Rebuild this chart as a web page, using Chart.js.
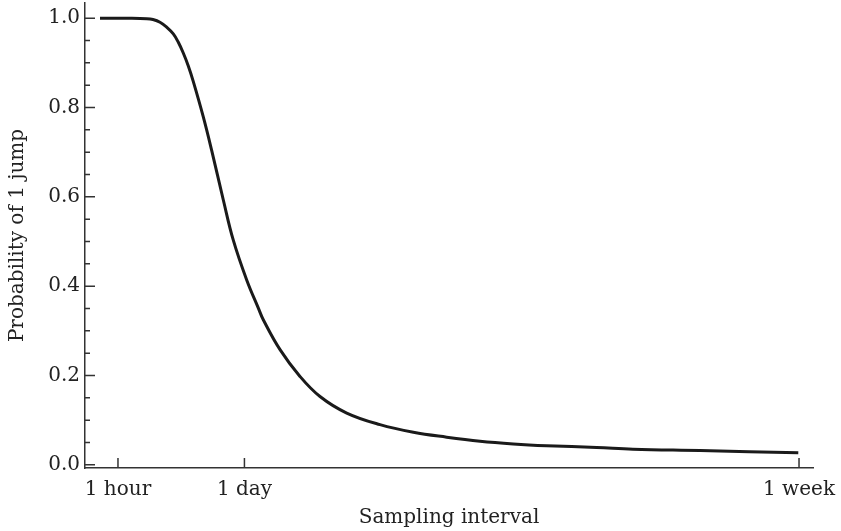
<!DOCTYPE html>
<html lang="en">
<head>
<meta charset="UTF-8" />
<title>Probability of 1 jump</title>
<script src="https://cdn.jsdelivr.net/npm/chart.js@4.4.1/dist/chart.umd.min.js"></script>
<style>
	html, body { margin: 0; padding: 0; background: #fff; }
	#wrap { position: relative; width: 841px; height: 531px; }
</style>
</head>
<body>
<div id="wrap"><canvas id="myChart"></canvas></div>
<script>
// x is position along the sampling-interval axis (0..100), y is probability
const curveX = [2.06, 6.18, 8.48, 9.34, 10.30, 11.22, 12.13, 12.82, 13.50, 14.19, 14.88, 16.25, 17.40, 19.00, 20.37, 22.21, 23.81, 24.49, 26.79, 29.53, 32.28, 35.95, 40.52, 45.10, 49.68, 54.26, 58.83, 63.41, 70.29, 75.27, 84.48, 97.98];
const curveY = [1.0, 1.0, 0.999, 0.997, 0.991, 0.980, 0.965, 0.946, 0.922, 0.893, 0.858, 0.779, 0.704, 0.593, 0.503, 0.414, 0.351, 0.325, 0.258, 0.198, 0.153, 0.116, 0.090, 0.073, 0.062, 0.053, 0.047, 0.043, 0.039, 0.035, 0.032, 0.027];

const xTickPos = [4.53, 21.9, 98.08];
const xTickLabels = ['1 hour', '1 day', '1 week'];
const yTicks = [0, 0.2, 0.4, 0.6, 0.8, 1.0];
const yMinorTicks = [0.05, 0.1, 0.15, 0.25, 0.3, 0.35, 0.45, 0.5, 0.55, 0.65, 0.7, 0.75, 0.85, 0.9, 0.95];

const axisColor = '#333';
const textColor = '#222';
const font = { family: "'DejaVu Serif', serif", size: 20 };

// ticks point into the plot, so draw them here
const innerTicks = {
	id: 'innerTicks',
	afterDraw(chart) {
		const ctx = chart.ctx;
		const xs = chart.scales.x, ys = chart.scales.y;
		ctx.save();
		ctx.strokeStyle = axisColor;
		ctx.lineWidth = 1.5;
		ctx.beginPath();
		yTicks.forEach(v => {
			const p = ys.getPixelForValue(v);
			ctx.moveTo(xs.left, p); ctx.lineTo(xs.left + 10, p);
		});
		yMinorTicks.forEach(v => {
			const p = ys.getPixelForValue(v);
			ctx.moveTo(xs.left, p); ctx.lineTo(xs.left + 5, p);
		});
		xTickPos.forEach(v => {
			const p = xs.getPixelForValue(v);
			ctx.moveTo(p, ys.bottom); ctx.lineTo(p, ys.bottom - 10);
		});
		ctx.stroke();
		ctx.restore();
	}
};

const ctx = document.getElementById('myChart').getContext('2d');
const chart = new Chart(ctx, {
	type: 'line',
	data: {
		datasets: [{
			data: curveX.map((x, i) => ({ x: x, y: curveY[i] })),
			borderColor: '#1a1a1a',
			borderWidth: 3,
			pointRadius: 0,
			fill: false,
			tension: 0.4
		}]
	},
	options: {
		responsive: true,
		maintainAspectRatio: false,
		animation: false,
		layout: { padding: { left: 0, right: 28, top: 3, bottom: 0 } },
		plugins: { legend: { display: false }, tooltip: { enabled: false } },
		scales: {
			x: {
				type: 'linear',
				min: 0,
				max: 100,
				afterBuildTicks: s => { s.ticks = xTickPos.map(v => ({ value: v })); },
				afterFit: s => { s.height = 63; s.paddingLeft = 0; s.paddingRight = 0; },
				ticks: {
					color: textColor,
					font: font,
					padding: 10,
					maxRotation: 0,
					callback: (v, i) => xTickLabels[i]
				},
				grid: { drawOnChartArea: false, drawTicks: false },
				border: { display: true, color: axisColor, width: 1.5 },
				title: { display: true, text: 'Sampling interval', color: textColor, font: font, padding: { top: 0, bottom: 1 } }
			},
			y: {
				type: 'linear',
				min: -0.007,
				max: 1.034,
				afterBuildTicks: s => { s.ticks = yTicks.map(v => ({ value: v })); },
				afterFit: s => { s.width = 85; s.paddingTop = 0; s.paddingBottom = 0; },
				ticks: {
					color: textColor,
					font: font,
					padding: 5,
					callback: v => v.toFixed(1)
				},
				grid: { drawOnChartArea: false, drawTicks: false },
				border: { display: true, color: axisColor, width: 1.5 },
				title: { display: true, text: 'Probability of 1 jump', color: textColor, font: font, padding: { top: 6, bottom: 0 } }
			}
		}
	},
	plugins: [innerTicks]
});
</script>
</body>
</html>
